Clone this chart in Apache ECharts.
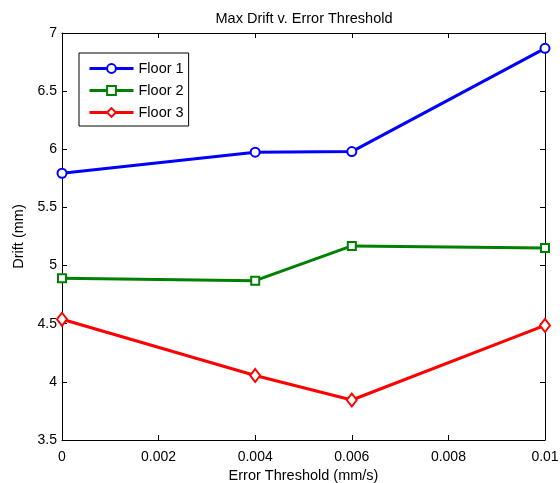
<!DOCTYPE html>
<html><head><meta charset="utf-8">
<script src="https://cdn.jsdelivr.net/npm/echarts@6/dist/echarts.min.js"></script>
<style>html,body{margin:0;padding:0;background:#fff}#c{width:560px;height:483px}</style>
</head><body><div id="c"></div>
<script>
const thresholds = [0, 0.004, 0.006, 0.01];
const floor1 = [5.794, 5.975, 5.98, 6.868];
const floor2 = [4.891, 4.87, 5.169, 5.152];
const floor3 = [4.538, 4.055, 3.844, 4.485];
const seriesNames = ['Floor 1', 'Floor 2', 'Floor 3'];
const xTicks = [0, 0.002, 0.004, 0.006, 0.008, 0.01];
const yTicks = [3.5, 4, 4.5, 5, 5.5, 6, 6.5, 7];

const font = 'Liberation Sans, Arial, Helvetica, sans-serif';
const chart = echarts.init(document.getElementById('c'));
const pair = arr => thresholds.map((x, i) => [x, arr[i]]);
const axisLine = () => ({show: true, onZero: false, lineStyle: {color: '#000', width: 1}});
const tick = () => ({show: true, inside: true, length: 5, lineStyle: {color: '#000', width: 1}});
chart.setOption({
  animation: false,
  title: {text: 'Max Drift v. Error Threshold', left: 299, top: 6, textAlign: 'center',
    textStyle: {fontFamily: font, fontSize: 14.5, fontWeight: 'normal', color: '#000'}},
  grid: {left: 62, right: 15, top: 33, bottom: 43, containLabel: false, outerBoundsMode: 'none'},
  legend: {
    orient: 'vertical', left: 79, top: 53, width: 109,
    padding: [7, 5, 5, 9], itemGap: 5, itemWidth: 44, itemHeight: 11,
    borderColor: '#000', borderWidth: 1, borderRadius: 0, backgroundColor: '#fff',
    lineStyle: {width: 3},
    textStyle: {fontFamily: font, fontSize: 14.5, lineHeight: 17, color: '#000'},
    data: seriesNames
  },
  xAxis: [{
    type: 'value', min: 0, max: 0.01, interval: 0.002, position: 'bottom',
    name: 'Error Threshold (mm/s)', nameLocation: 'middle', nameGap: 27,
    nameTextStyle: {fontFamily: font, fontSize: 14.5, color: '#000'},
    axisLine: axisLine(), axisTick: tick(), splitLine: {show: false},
    axisLabel: {fontFamily: font, fontSize: 14, color: '#000', margin: 10,
      formatter: v => xTicks.includes(+v.toFixed(4)) ? String(+v.toFixed(4)) : ''}
  }, {
    type: 'value', min: 0, max: 0.01, interval: 0.002, position: 'top',
    axisLine: axisLine(), axisTick: tick(), axisLabel: {show: false}, splitLine: {show: false}
  }],
  yAxis: [{
    type: 'value', min: 3.5, max: 7, interval: 0.5, position: 'left',
    name: 'Drift (mm)', nameLocation: 'middle', nameGap: 33,
    nameTextStyle: {fontFamily: font, fontSize: 14.5, color: '#000'},
    axisLine: axisLine(), axisTick: tick(), splitLine: {show: false},
    axisLabel: {fontFamily: font, fontSize: 14, color: '#000', margin: 5,
      formatter: v => yTicks.includes(+v.toFixed(2)) ? String(+v.toFixed(2)) : ''}
  }, {
    type: 'value', min: 3.5, max: 7, interval: 0.5, position: 'right',
    axisLine: axisLine(), axisTick: tick(), axisLabel: {show: false}, splitLine: {show: false}
  }],
  series: [
    {name: seriesNames[0], type: 'line', data: pair(floor1), symbol: 'emptyCircle', symbolSize: 9,
      lineStyle: {color: '#0000ff', width: 3}, itemStyle: {color: '#0000ff', borderWidth: 2.5}},
    {name: seriesNames[1], type: 'line', data: pair(floor2), symbol: 'emptyRect', symbolSize: 8,
      lineStyle: {color: '#008000', width: 3}, itemStyle: {color: '#008000', borderWidth: 2.5}},
    {name: seriesNames[2], type: 'line', data: pair(floor3), symbol: 'emptyDiamond', symbolSize: [10, 13],
      lineStyle: {color: '#ff0000', width: 3}, itemStyle: {color: '#ff0000', borderWidth: 2.5}}
  ]
});
</script></body></html>
